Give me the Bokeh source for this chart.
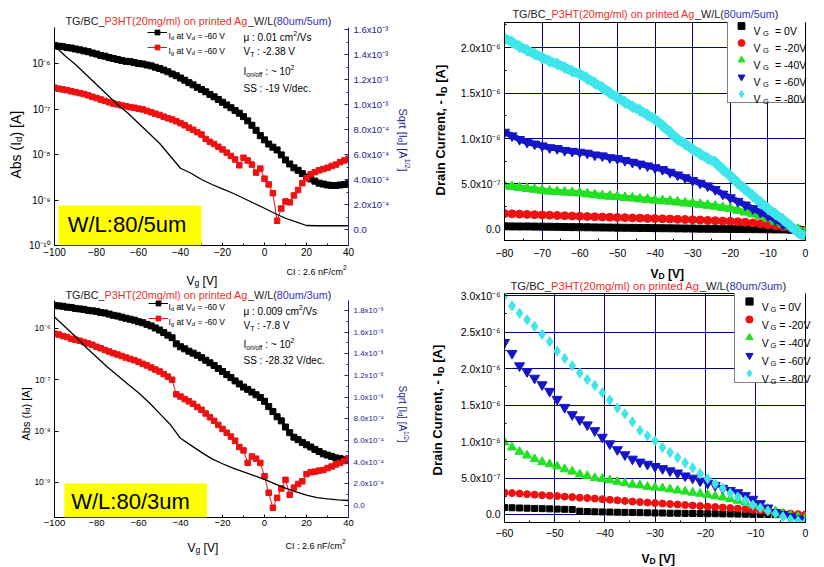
import math
from bokeh.plotting import figure
from bokeh.models import (Range1d, LinearAxis, LinearScale, FixedTicker, Label, BoxAnnotation,
                          Legend, LegendItem)
from bokeh.layouts import row, column
from bokeh.embed import file_html
from bokeh.resources import INLINE

FONT = "Liberation Sans"
RED = "#ee1111"
GREEN = "#22e022"
BLUE = "#1515c8"
CYAN = "#3ee6ec"
NAVY = "#000080"
AXNAVY = "#23238f"
TDARK = "#222222"
TRED = "#e8302a"
TBLUE = "#3333bb"

# ---------------- transfer curves (left panels) ----------------
vg = list(range(-100, 41, 2))          # gate voltage, V
vg_sqrt = list(range(-100, 41, 5))     # gate voltage for sqrt(Id) line

id_5um = [2.5e-6, 2.4e-6, 2.35e-6, 2.24e-6, 2.19e-6, 2.09e-6, 2.0e-6, 1.9e-6, 1.82e-6, 1.7e-6,
          1.62e-6, 1.51e-6, 1.45e-6, 1.35e-6, 1.29e-6, 1.23e-6, 1.17e-6, 1.12e-6, 1.10e-6, 1.05e-6,
          1.0e-6, 9.8e-7, 9.3e-7, 8.9e-7, 8.3e-7, 7.8e-7, 7.2e-7, 6.6e-7, 5.9e-7, 5.4e-7,
          4.8e-7, 4.3e-7, 3.8e-7, 3.4e-7, 3.0e-7, 2.7e-7, 2.4e-7, 2.1e-7, 1.86e-7, 1.62e-7,
          1.41e-7, 1.23e-7, 1.07e-7, 9.3e-8, 8.1e-8, 6.8e-8, 5.5e-8, 4.4e-8, 3.4e-8, 2.6e-8,
          2.1e-8, 1.7e-8, 1.45e-8, 1.26e-8, 9.8e-9, 7.6e-9, 6.2e-9, 5.1e-9, 4.5e-9, 3.8e-9,
          3.2e-9, 2.9e-9, 2.6e-9, 2.35e-9, 2.24e-9, 2.14e-9, 2.09e-9, 2.09e-9, 2.14e-9, 2.19e-9,
          2.29e-9]
ig_5um = [2.95e-7, 2.8e-7, 2.7e-7, 2.6e-7, 2.45e-7, 2.35e-7, 2.24e-7, 2.14e-7, 2.0e-7, 1.86e-7,
          1.74e-7, 1.62e-7, 1.51e-7, 1.41e-7, 1.32e-7, 1.26e-7, 1.2e-7, 1.15e-7, 1.1e-7, 1.07e-7,
          1.02e-7, 9.8e-8, 9.1e-8, 8.5e-8, 7.9e-8, 7.4e-8, 6.8e-8, 6.3e-8, 5.9e-8, 5.4e-8,
          4.9e-8, 4.4e-8, 3.9e-8, 3.5e-8, 3.1e-8, 2.75e-8, 2.2e-8, 1.9e-8, 1.7e-8, 1.48e-8,
          1.29e-8, 1.1e-8, 9.3e-9, 7.8e-9, 5.8e-9, 8.5e-9, 7.4e-9, 6.0e-9, 4.0e-9, 4.9e-9,
          2.95e-9, 2.2e-9, 1.41e-9, 3.5e-10, 6.5e-10, 9.3e-10, 8.9e-10, 1.26e-9, 1.66e-9, 2.35e-9,
          3.0e-9, 3.7e-9, 4.1e-9, 4.5e-9, 4.8e-9, 5.1e-9, 5.6e-9, 6.0e-9, 6.8e-9, 7.4e-9,
          8.1e-9]
sqrt_5um = [1.47e-3, 1.39e-3, 1.32e-3, 1.24e-3, 1.16e-3, 1.08e-3, 1.0e-3, 9.3e-4, 8.5e-4, 7.7e-4,
            6.9e-4, 5.9e-4, 4.9e-4, 4.5e-4, 4.0e-4, 3.6e-4, 3.25e-4, 2.9e-4, 2.5e-4, 2.1e-4,
            1.7e-4, 1.28e-4, 9.0e-5, 6.1e-5, 3.2e-5, 3.0e-5, 3.0e-5, 3.0e-5, 3.0e-5]

id_3um = [2.8e-6, 2.75e-6, 2.7e-6, 2.6e-6, 2.55e-6, 2.45e-6, 2.4e-6, 2.35e-6, 2.25e-6, 2.2e-6,
          2.15e-6, 2.05e-6, 2.0e-6, 1.9e-6, 1.8e-6, 1.74e-6, 1.66e-6, 1.58e-6, 1.51e-6, 1.45e-6,
          1.35e-6, 1.29e-6, 1.2e-6, 1.12e-6, 1.02e-6, 9.3e-7, 8.3e-7, 7.4e-7, 6.6e-7, 5.0e-7,
          4.4e-7, 4.0e-7, 3.6e-7, 3.3e-7, 3.0e-7, 2.7e-7, 2.4e-7, 2.14e-7, 1.9e-7, 1.66e-7,
          1.45e-7, 1.26e-7, 1.1e-7, 9.5e-8, 8.3e-8, 7.2e-8, 6.5e-8, 5.75e-8, 5.1e-8, 4.5e-8,
          3.8e-8, 3.0e-8, 2.4e-8, 1.9e-8, 1.58e-8, 1.2e-8, 9.3e-9, 7.6e-9, 6.8e-9, 6.0e-9,
          5.4e-9, 4.9e-9, 4.4e-9, 4.0e-9, 3.6e-9, 3.4e-9, 3.2e-9, 3.0e-9, 2.9e-9, 2.75e-9,
          2.7e-9]
ig_3um = [7.9e-7, 7.6e-7, 7.1e-7, 6.8e-7, 6.3e-7, 6.0e-7, 5.75e-7, 5.4e-7, 5.1e-7, 4.8e-7,
          4.4e-7, 4.1e-7, 3.8e-7, 3.55e-7, 3.3e-7, 3.1e-7, 2.9e-7, 2.7e-7, 2.55e-7, 2.4e-7,
          2.24e-7, 2.04e-7, 1.9e-7, 1.74e-7, 1.58e-7, 1.45e-7, 1.29e-7, 1.15e-7, 1.0e-7, 5.2e-8,
          4.7e-8, 4.2e-8, 3.8e-8, 3.4e-8, 2.95e-8, 2.6e-8, 2.2e-8, 1.86e-8, 1.58e-8, 1.32e-8,
          1.1e-8, 9.3e-9, 7.8e-9, 6.5e-9, 4.9e-9, 4.2e-9, 2.4e-9, 3.2e-9, 2.9e-9, 2.4e-9,
          1.32e-9, 6.3e-10, 3.2e-10, 5.0e-10, 7.6e-10, 1.12e-9, 5.75e-10, 7.9e-10, 9.3e-10, 1.05e-9,
          1.45e-9, 1.58e-9, 1.62e-9, 1.7e-9, 1.74e-9, 1.9e-9, 2.04e-9, 2.24e-9, 2.4e-9, 2.6e-9,
          2.95e-9]
sqrt_3um = [1.74e-3, 1.65e-3, 1.56e-3, 1.46e-3, 1.37e-3, 1.28e-3, 1.20e-3, 1.12e-3, 1.04e-3, 9.5e-4,
            8.5e-4, 7.5e-4, 6.2e-4, 5.55e-4, 4.9e-4, 4.3e-4, 3.85e-4, 3.45e-4, 3.1e-4, 2.75e-4,
            2.4e-4, 2.0e-4, 1.6e-4, 1.25e-4, 9.5e-5, 7.2e-5, 6.0e-5, 5.2e-5, 4.6e-5]

# ---------------- output curves (right panels), values in uA ----------------
vd_5um = list(range(-80, 1, 2))
out5_0 = [0.035, 0.034, 0.033, 0.033, 0.032, 0.031, 0.030, 0.029, 0.027, 0.026,
          0.025, 0.024, 0.023, 0.022, 0.021, 0.020, 0.019, 0.018, 0.017, 0.016,
          0.015, 0.014, 0.013, 0.012, 0.011, 0.010, 0.009, 0.008, 0.007, 0.007,
          0.006, 0.005, 0.004, 0.004, 0.003, 0.002, 0.001, 0.0, -0.002, -0.003, -0.005]
out5_20 = [0.175, 0.172, 0.169, 0.166, 0.163, 0.16, 0.157, 0.154, 0.151, 0.148,
           0.145, 0.142, 0.14, 0.137, 0.135, 0.132, 0.13, 0.127, 0.125, 0.122,
           0.12, 0.117, 0.115, 0.112, 0.11, 0.107, 0.104, 0.1, 0.097, 0.093,
           0.09, 0.085, 0.08, 0.072, 0.062, 0.05, 0.04, 0.03, 0.018, 0.005, -0.01]
out5_40 = [0.48, 0.47, 0.46, 0.45, 0.44, 0.43, 0.42, 0.415, 0.41, 0.405,
           0.40, 0.39, 0.38, 0.37, 0.365, 0.36, 0.35, 0.345, 0.335, 0.33,
           0.32, 0.315, 0.31, 0.30, 0.29, 0.285, 0.275, 0.265, 0.255, 0.24,
           0.23, 0.21, 0.19, 0.17, 0.145, 0.12, 0.09, 0.06, 0.03, 0.0, -0.02]
out5_60 = [1.07, 1.03, 0.99, 0.96, 0.94, 0.92, 0.90, 0.89, 0.87, 0.86,
           0.85, 0.84, 0.82, 0.81, 0.79, 0.78, 0.76, 0.74, 0.72, 0.70,
           0.68, 0.66, 0.63, 0.60, 0.57, 0.54, 0.51, 0.48, 0.44, 0.39,
           0.35, 0.31, 0.27, 0.23, 0.19, 0.15, 0.11, 0.06, 0.02, -0.03, -0.07]
out5_80 = [2.10, 2.06, 2.01, 1.97, 1.93, 1.89, 1.85, 1.82, 1.78, 1.74,
           1.71, 1.66, 1.61, 1.56, 1.50, 1.45, 1.40, 1.35, 1.31, 1.26,
           1.21, 1.14, 1.07, 0.99, 0.94, 0.88, 0.83, 0.78, 0.74, 0.66,
           0.59, 0.51, 0.44, 0.37, 0.30, 0.23, 0.17, 0.11, 0.04, -0.03, -0.09]

vd_3um = [-60 + 1.5 * i for i in range(41)]
out3_0 = [0.095, 0.092, 0.089, 0.086, 0.083, 0.080, 0.077, 0.074, 0.071, 0.068,
          0.045, 0.040, 0.037, 0.035, 0.033, 0.031, 0.029, 0.027, 0.025, 0.023,
          0.021, 0.020, 0.018, 0.017, 0.015, 0.014, 0.012, 0.011, 0.010, 0.008,
          0.007, 0.005, 0.004, 0.002, 0.001, 0.0, -0.002, -0.005, -0.010, -0.015, -0.020]
out3_20 = [0.300, 0.293, 0.286, 0.279, 0.272, 0.265, 0.258, 0.252, 0.245, 0.238,
           0.231, 0.225, 0.218, 0.21, 0.202, 0.194, 0.186, 0.178, 0.17, 0.163,
           0.157, 0.15, 0.143, 0.137, 0.13, 0.123, 0.116, 0.109, 0.102, 0.095,
           0.088, 0.081, 0.073, 0.064, 0.054, 0.043, 0.032, 0.022, 0.013, 0.005, 0.0]
out3_40 = [0.99, 0.92, 0.86, 0.81, 0.76, 0.72, 0.69, 0.66, 0.62, 0.59,
           0.55, 0.53, 0.50, 0.49, 0.47, 0.45, 0.43, 0.41, 0.40, 0.38,
           0.37, 0.36, 0.345, 0.33, 0.315, 0.30, 0.285, 0.27, 0.25, 0.235,
           0.215, 0.19, 0.165, 0.135, 0.11, 0.08, 0.045, 0.015, -0.01, -0.03, -0.04]
out3_60 = [2.36, 2.21, 2.04, 1.96, 1.87, 1.78, 1.69, 1.58, 1.47, 1.37,
           1.30, 1.23, 1.15, 1.06, 0.97, 0.89, 0.82, 0.76, 0.72, 0.69,
           0.66, 0.63, 0.60, 0.57, 0.53, 0.50, 0.46, 0.43, 0.40, 0.36,
           0.33, 0.30, 0.26, 0.21, 0.15, 0.09, 0.03, 0.0, -0.03, -0.06, -0.08]
out3_80 = [3.00, 2.86, 2.76, 2.67, 2.58, 2.47, 2.37, 2.24, 2.14, 2.04,
           1.94, 1.85, 1.77, 1.67, 1.57, 1.46, 1.38, 1.27, 1.15, 1.08,
           1.01, 0.92, 0.85, 0.78, 0.71, 0.64, 0.56, 0.49, 0.42, 0.36,
           0.29, 0.24, 0.19, 0.13, 0.09, 0.05, 0.01, -0.03, -0.07, -0.09, -0.10]

vg_labels = ["0V", "-20V", "-40V", "-60V", "-80V"]

# tick values / labels
log_ticks_5um = [1e-10, 1e-9, 1e-8, 1e-7, 1e-6]
log_labels_5um = ["10⁻¹⁰", "10⁻⁹", "10⁻⁸", "10⁻⁷", "10⁻⁶"]
log_ticks_3um = [1e-9, 1e-8, 1e-7, 1e-6]
log_labels_3um = ["10⁻⁹", "10⁻⁸", "10⁻⁷", "10⁻⁶"]
sq_ticks_5um = [0.0, 0.0002, 0.0004, 0.0006, 0.0008, 0.001, 0.0012, 0.0014, 0.0016]
sq_labels_5um = ["0.0", "2.0x10⁻⁴", "4.0x10⁻⁴", "6.0x10⁻⁴", "8.0x10⁻⁴",
                 "1.0x10⁻³", "1.2x10⁻³", "1.4x10⁻³", "1.6x10⁻³"]
sq_ticks_3um = [0.0, 0.0002, 0.0004, 0.0006, 0.0008, 0.001, 0.0012, 0.0014, 0.0016, 0.0018]
sq_labels_3um = sq_labels_5um + ["1.8x10⁻³"]
cur_ticks_5um = [0.0, 5e-7, 1e-6, 1.5e-6, 2e-6]
cur_labels_5um = ["0.0", "5.0x10⁻⁷", "1.0x10⁻⁶", "1.5x10⁻⁶", "2.0x10⁻⁶"]
cur_ticks_3um = [0.0, 5e-7, 1e-6, 1.5e-6, 2e-6, 2.5e-6, 3e-6]
cur_labels_3um = cur_labels_5um + ["2.5x10⁻⁶", "3.0x10⁻⁶"]

# ---------------- text overlay (page coordinates) ----------------
W_REG = {' ': 278, '(': 333, ')': 333, ',': 278, '-': 333, '.': 278, '/': 278, ':': 278,
         '=': 584, '[': 278, ']': 278, '_': 556, '~': 584, 'A': 667, 'B': 667, 'C': 722,
         'D': 722, 'F': 611, 'G': 778, 'H': 722, 'I': 278, 'L': 556, 'P': 667, 'S': 667,
         'T': 611, 'V': 667, 'W': 944, 'a': 556, 'b': 556, 'c': 500, 'd': 556, 'e': 556,
         'f': 278, 'g': 556, 'i': 222, 'l': 222, 'm': 833, 'n': 556, 'o': 556, 'p': 556,
         'q': 556, 'r': 333, 's': 500, 't': 278, 'u': 556, 'x': 500, 'μ': 576}
W_BOLD = {' ': 278, ',': 278, '-': 333, '[': 333, ']': 333, 'A': 722, 'C': 722, 'D': 722,
          'I': 278, 'V': 667, 'a': 556, 'e': 556, 'i': 278, 'n': 611, 'r': 389, 't': 333,
          'u': 611}

overlay = figure(width=824, height=567, x_range=Range1d(0, 824), y_range=Range1d(567, 0),
                 x_axis_location=None, y_axis_location=None, toolbar_location=None,
                 output_backend="svg", min_border=0,
                 styles={"position": "absolute", "left": "0px", "top": "0px", "z-index": "10",
                         "pointer-events": "none"})
overlay.background_fill_alpha = 0
overlay.border_fill_alpha = 0
overlay.outline_line_color = None
overlay.xgrid.visible = False
overlay.ygrid.visible = False


def tw(text, size, bold=False):
    tab = W_BOLD if bold else W_REG
    return sum(tab.get(c, 556) for c in text) * size / 1000.0


def put(ax, ay, text, size, color="black", bold=False, angle=0.0,
        align="left", baseline="alphabetic"):
    overlay.add_layout(Label(x=ax, y=ay, text=text, text_font=FONT, text_font_size=f"{size}px",
                             text_color=color, text_font_style="bold" if bold else "normal",
                             angle=angle, text_align=align, text_baseline=baseline))


def rich(ax, ay, pieces, angle=0.0):
    """Place text pieces one after another (sub/superscripts via shift)."""
    cur = 0.0
    for text, size, shift, color, bold in pieces:
        stripped = text.lstrip(" ")
        cur += tw(text[:len(text) - len(stripped)], size, bold)   # leading blanks
        if angle == 0:
            x, y = ax + cur, ay + shift
        elif angle > 0:
            x, y = ax + shift, ay - cur
        else:
            x, y = ax - shift, ay + cur
        put(x, y, stripped, size, color, bold, angle)
        cur += tw(stripped, size, bold)


def title(x, y, sub_tag, size):
    parts = [("TG/BC_", TDARK), ("P3HT(20mg/ml) on printed Ag", TRED), ("_W/L(", TDARK),
             (sub_tag, TBLUE), (")", TDARK)]
    rich(x, y, [(t, size, 0, c, False) for t, c in parts])


def style_axis(ax, size, color="black", standoff=3, tick_in=4, minor_in=2):
    ax.major_label_text_font = FONT
    ax.major_label_text_font_size = f"{size}px"
    ax.major_label_text_color = color
    ax.axis_line_color = color
    ax.major_tick_line_color = color
    ax.minor_tick_line_color = color
    ax.major_tick_in = tick_in
    ax.major_tick_out = 0
    ax.minor_tick_in = minor_in
    ax.minor_tick_out = 0
    ax.major_label_standoff = standoff


def base_fig(w, h, bl, br, bt, bb, xr, yr, log=False):
    p = figure(width=w, height=h, x_range=Range1d(*xr), y_range=Range1d(*yr),
               y_axis_type="log" if log else "linear", output_backend="svg",
               toolbar_location=None, min_border_left=bl, min_border_right=br,
               min_border_top=bt, min_border_bottom=bb)
    p.background_fill_color = "white"
    p.border_fill_color = "white"
    return p


# ---------------- transfer panel builder ----------------
def transfer_panel(h, borders, yr, sqr, id_v, ig_v, sq_v, log_t, log_l, sq_t, sq_l, fs):
    bl, br, bt, bb = borders
    p = base_fig(412, h, bl, br, bt, bb, (-100, 40), yr, log=True)
    p.outline_line_color = None
    p.xgrid.visible = False
    p.ygrid.visible = False
    p.extra_y_ranges = {"sq": Range1d(*sqr)}
    p.extra_y_scales = {"sq": LinearScale()}
    rax = LinearAxis(y_range_name="sq")
    p.add_layout(rax, "right")
    lax = p.left[0]
    xax = p.below[0]
    xax.ticker = FixedTicker(ticks=list(range(-100, 41, 20)), minor_ticks=list(range(-90, 40, 20)))
    lax.ticker = FixedTicker(ticks=log_t, minor_ticks=[])
    lax.major_label_overrides = dict(zip(log_t, log_l))
    rax.ticker = FixedTicker(ticks=sq_t, minor_ticks=[t + 0.0001 for t in sq_t[:-1]])
    rax.major_label_overrides = dict(zip(sq_t, sq_l))
    style_axis(xax, fs[0], standoff=2, tick_in=3)
    style_axis(lax, fs[1], standoff=4)
    style_axis(rax, fs[2], color=AXNAVY, standoff=5)

    l1 = p.line(vg, id_v, line_color="black", line_width=1)
    s1 = p.scatter(vg, id_v, marker="square", size=6, color="black")
    l2 = p.line(vg, ig_v, line_color=RED, line_width=1)
    s2 = p.scatter(vg, ig_v, marker="square", size=5.5, color=RED)
    p.line(vg_sqrt, sq_v, y_range_name="sq", line_color="black", line_width=1.3)
    return p, (l1, s1), (l2, s2)


# ===== Top-left: W/L 80/5 um transfer =====
p1, r_id1, r_ig1 = transfer_panel(285, (54, 64, 27, 40),
                                  (1e-10, 6.2e-6), (-1.28e-4, 1.616e-3),
                                  id_5um, ig_5um, sqrt_5um, log_ticks_5um, log_labels_5um,
                                  sq_ticks_5um, sq_labels_5um, (10, 10, 9.5))
leg1 = Legend(items=[LegendItem(label=" ", renderers=list(r_id1)),
                     LegendItem(label=" ", renderers=list(r_ig1))],
              location=(93, 192), border_line_color=None, background_fill_alpha=0,
              padding=0, spacing=3, glyph_width=20, glyph_height=12, label_height=12,
              label_width=0, label_standoff=0, margin=0, label_text_font_size="8px")
p1.add_layout(leg1)
p1.add_layout(BoxAnnotation(left=-98.1, right=-30, bottom=1e-10, top=7.6e-10,
                            fill_color="#ffff00", fill_alpha=1, line_color=None))

# ===== Bottom-left: W/L 80/3 um transfer =====
p3, r_id3, r_ig3 = transfer_panel(282, (53, 64, 15, 50),
                                  (2.07e-10, 3.5e-6), (-1.11e-4, 1.892e-3),
                                  id_3um, ig_3um, sqrt_3um, log_ticks_3um, log_labels_3um,
                                  sq_ticks_3um, sq_labels_3um, (9.5, 8.5, 8))
leg3 = Legend(items=[LegendItem(label=" ", renderers=list(r_id3)),
                     LegendItem(label=" ", renderers=list(r_ig3))],
              location=(94, 193), border_line_color=None, background_fill_alpha=0,
              padding=0, spacing=3, glyph_width=20, glyph_height=12, label_height=12,
              label_width=0, label_standoff=0, margin=0, label_text_font_size="8px")
p3.add_layout(leg3)
p3.add_layout(BoxAnnotation(left=-95.3, right=-27.4, bottom=2.07e-10, top=9.5e-10,
                            fill_color="#ffff00", fill_alpha=1, line_color=None))


def transfer_texts(title_y, sub_tag, leg_y, ann_y, ann, wl_text, wl_c,
                   abs_pos, abs_fs, sq_pos, sq_fs, vg_pos, ci_pos):
    title(65, title_y, sub_tag, 10.8)
    for y, s in zip(leg_y, ["d", "g"]):
        rich(168, y, [("I", 8.5, 0, "black", False), (s, 6, 2, "black", False),
                      (" at V", 8.5, 0, "black", False), ("d", 6, 2, "black", False),
                      (" = -60 V", 8.5, 0, "black", False)])
    mu, vt, ss = ann
    rich(243, ann_y[0], [("μ : " + mu + " cm", 10, 0, "black", False),
                         ("2", 7, -4, "black", False), ("/Vs", 10, 0, "black", False)])
    rich(243, ann_y[1], [("V", 10, 0, "black", False), ("T", 7, 3, "black", False),
                         (" : " + vt, 10, 0, "black", False)])
    rich(243, ann_y[2], [("I", 10, 0, "black", False), ("on/off", 6.5, 3, "black", False),
                         (" : ~ 10", 10, 0, "black", False), ("2", 7, -4, "black", False)])
    put(243, ann_y[3], "SS : " + ss, 10)
    put(wl_c[0], wl_c[1], wl_text, 22, align="center", baseline="middle")
    rich(abs_pos[0], abs_pos[1], [("Abs (I", abs_fs, 0, "black", False),
                                  ("d", abs_fs * 0.7, abs_fs * 0.22, "black", False),
                                  (") [A]", abs_fs, 0, "black", False)], angle=math.pi / 2)
    rich(sq_pos[0], sq_pos[1], [("Sqrt [I", sq_fs, 0, AXNAVY, False),
                                ("d", sq_fs * 0.7, sq_fs * 0.22, AXNAVY, False),
                                ("] [A", sq_fs, 0, AXNAVY, False),
                                ("1/2", sq_fs * 0.65, -sq_fs * 0.4, AXNAVY, False),
                                ("]", sq_fs, 0, AXNAVY, False)], angle=-math.pi / 2)
    rich(vg_pos[0], vg_pos[1], [("V", 12, 0, "black", False), ("g", 8.5, 2.6, "black", False),
                                (" [V]", 12, 0, "black", False)])
    rich(ci_pos[0], ci_pos[1], [("CI : 2.6 nF/cm", 9, 0, "black", False),
                                ("2", 6.5, -4, "black", False)])


transfer_texts(20.5, "80um/5um", [35, 50], [36.5, 51, 71, 88],
               ("0.01", "-2.38 V", "-19 V/dec."), "W/L:80/5um", (126.5, 224),
               (15, 178), 14, (402, 108), 11, (186, 280), (286, 271))
transfer_texts(294, "80um/3um", [306, 321], [311, 325, 344, 360],
               ("0.009", "-7.8 V", "-28.32 V/dec."), "W/L:80/3um", (130, 501),
               (25, 440), 11, (402, 385), 10, (187, 547), (285, 545))


# ---------------- output panel builder ----------------
def output_panel(h, borders, xr, yr, vd, series, x_ticks, x_minor, c_t, c_l, y_minor, sizes,
                 x_standoff, band_widths=None):
    bl, br, bt, bb = borders
    p = base_fig(412, h, bl, br, bt, bb, xr, yr)
    p.outline_line_color = "black"
    p.outline_line_width = 1
    xax = p.below[0]
    yax = p.left[0]
    xax.ticker = FixedTicker(ticks=x_ticks, minor_ticks=x_minor)
    yax.ticker = FixedTicker(ticks=c_t, minor_ticks=y_minor)
    yax.major_label_overrides = dict(zip(c_t, c_l))
    style_axis(xax, 10.5, standoff=x_standoff)
    style_axis(yax, 10.5, standoff=4)
    p.xgrid.grid_line_color = NAVY
    p.ygrid.grid_line_color = NAVY
    p.xgrid.grid_line_width = 1
    p.ygrid.grid_line_width = 1
    markers = ["square", "circle", "triangle", "inverted_triangle", "diamond"]
    colors = ["black", RED, GREEN, BLUE, CYAN]
    rends = []
    for i, (vals, m, c, s) in enumerate(zip(series, markers, colors, sizes)):
        amps = [v * 1e-6 for v in vals]
        if band_widths is not None:
            p.line(vd, amps, line_color=c, line_width=band_widths[i])
        rends.append(p.scatter(vd, amps, marker=m, size=s, fill_color=c, line_color=c))
    return p, rends


# ===== Top-right =====
p2, rends2 = output_panel(276, (92, 19, 22, 36), (-80, 0), (-1.21e-7, 2.275e-6), vd_5um,
                          [out5_0, out5_20, out5_40, out5_60, out5_80],
                          list(range(-80, 1, 10)), list(range(-75, 0, 10)),
                          cur_ticks_5um, cur_labels_5um, [2.5e-7, 7.5e-7, 1.25e-6, 1.75e-6, 2.25e-6],
                          [7, 8, 10, 10, 12], 8, band_widths=[4, 5, 6, 6, 9])
leg2 = Legend(items=[LegendItem(label=" ", renderers=[r]) for r in rends2],
              location=(223, 137), border_line_color="black", border_line_width=1,
              background_fill_color="white", background_fill_alpha=1,
              padding=0, spacing=0, glyph_width=26, glyph_height=17, label_height=17,
              label_width=52, label_standoff=0, margin=0, label_text_font_size="8px")
p2.add_layout(leg2)

# ===== Bottom-right =====
p4, rends4 = output_panel(291, (91, 11, 17, 45), (-60, 0), (-1.1e-7, 3.03e-6), vd_3um,
                          [out3_0, out3_20, out3_40, out3_60, out3_80],
                          list(range(-60, 1, 10)), list(range(-55, 0, 10)),
                          cur_ticks_3um, cur_labels_3um,
                          [2.5e-7, 7.5e-7, 1.25e-6, 1.75e-6, 2.25e-6, 2.75e-6],
                          [6, 7, 9, 10, 10], 6)
leg4 = Legend(items=[LegendItem(label=" ", renderers=[r]) for r in rends4],
              location=(230, 139), border_line_color="black", border_line_width=1,
              background_fill_color="white", background_fill_alpha=1,
              padding=0, spacing=0, glyph_width=28, glyph_height=18, label_height=18,
              label_width=52, label_standoff=0, margin=0, label_text_font_size="8px")
p4.add_layout(leg4)


def output_texts(title_y, title_x, title_fs, sub_tag, leg_rows, leg_x, drain_pos, vd_pos):
    title(title_x, title_y, sub_tag, title_fs)
    for y, lab in zip(leg_rows, vg_labels):
        put(leg_x[0], y + 4, "V", 10.5)
        put(leg_x[1], y + 6.5, "G", 7.5)
        put(leg_x[2], y + 4, "= " + lab, 10.5)
    rich(drain_pos[0], drain_pos[1], [("Drain Current, - I", 13, 0, "black", True),
                                      ("D", 9, 3, "black", True),
                                      (" [A]", 13, 0, "black", True)], angle=math.pi / 2)
    rich(vd_pos[0], vd_pos[1], [("V", 12, 0, "black", True), ("D", 8.5, 2.6, "black", True),
                                (" [V]", 12, 0, "black", True)])


output_texts(13.5, 512, 10.8, "80um/5um",
             [26.5, 43.5, 60.5, 77.5, 94.5], (753, 762.5, 774.5), (440, 195), (650, 273))
output_texts(285.5, 510, 11.2, "80um/3um",
             [302, 320, 338, 356, 374], (761.3, 770, 778.7), (437, 475), (641, 558))

layout = column(overlay, row(column(p1, p3), column(p2, p4)))
open("out.html", "w").write(file_html(layout, INLINE))
